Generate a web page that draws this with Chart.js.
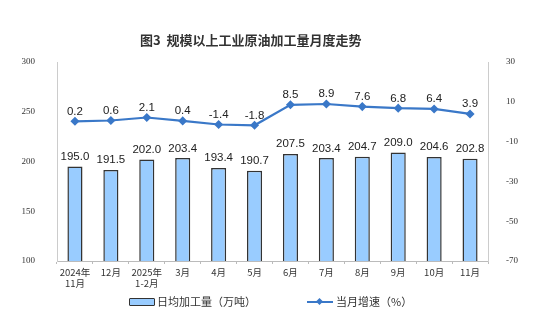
<!DOCTYPE html>
<html><head><meta charset="utf-8">
<script src="https://cdn.jsdelivr.net/npm/chart.js@4"></script>
<style>
html,body{margin:0;padding:0;background:#fff;}
#wrap{position:relative;width:550px;height:334px;}
#title{position:absolute;left:140px;top:30px;font:bold 13px "Noto Sans CJK SC",sans-serif;color:#333;white-space:nowrap;}
.lg{position:absolute;font:11px "Noto Sans CJK SC",sans-serif;color:#333;white-space:nowrap;}
#box{position:absolute;left:129px;top:298px;width:24px;height:6px;background:#99CCFF;border:1.5px solid #333;border-radius:1px;}
#ln{position:absolute;left:307px;top:301px;width:26px;height:2px;background:#3A78C8;}
#dm{position:absolute;left:317px;top:299px;width:5px;height:5px;background:#3A78C8;transform:rotate(45deg);}
</style></head>
<body><div id="wrap">
<canvas id="c" width="550" height="334"></canvas>
<div id="title">图3&nbsp;&nbsp;规模以上工业原油加工量月度走势</div>
<div id="box"></div><div class="lg" style="left:157px;top:293px;">日均加工量（万吨）</div>
<div id="ln"></div><div id="dm"></div><div class="lg" style="left:336px;top:293px;">当月增速（%）</div>
</div>
<script>
const categories = [['2024年','11月'],'12月',['2025年','1-2月'],'3月','4月','5月','6月','7月','8月','9月','10月','11月'];
const dailyOutput = [195.0,191.5,202.0,203.4,193.4,190.7,207.5,203.4,204.7,209.0,204.6,202.8];
const growthRate = [0.2,0.6,2.1,0.4,-1.4,-1.8,8.5,8.9,7.6,6.8,6.4,3.9];
const leftTicks = [100,150,200,250,300];
const rightTicks = [-70,-50,-30,-10,10,30];

const labelPlugin = {
  id:'labels',
  afterDatasetsDraw(chart){
    const ctx = chart.ctx;
    ctx.save();
    ctx.fillStyle = '#222';
    ctx.textAlign = 'center';
    ctx.textBaseline = 'bottom';
    ctx.font = '11.5px "Liberation Sans", Arial, sans-serif';
    chart.getDatasetMeta(0).data.forEach((el,i)=>{
      ctx.fillText(dailyOutput[i].toFixed(1), el.x, el.y - 4);
    });
    chart.getDatasetMeta(1).data.forEach((el,i)=>{
      ctx.fillText(growthRate[i].toFixed(1), el.x, el.y - 4);
    });
    ctx.restore();
  }
};

new Chart(document.getElementById('c'), {
  data:{
    labels:categories,
    datasets:[
      {type:'bar', data:dailyOutput, yAxisID:'y', backgroundColor:'#99CCFF', borderColor:'#333', borderWidth:1.5, barPercentage:0.42, categoryPercentage:1, order:2},
      {type:'line', data:growthRate, yAxisID:'y1', borderColor:'#3A78C8', backgroundColor:'#3A78C8', borderWidth:2.2, pointStyle:'rectRot', pointRadius:3, tension:0, order:1}
    ]
  },
  options:{
    responsive:false, animation:false,
    layout:{padding:{top:62,left:0,right:0,bottom:0}},
    plugins:{legend:{display:false}, tooltip:{enabled:false}},
    scales:{
      x:{
        grid:{display:true, offset:true, drawOnChartArea:false, tickLength:3, color:'#bbb'},
        border:{color:'#bbb'},
        ticks:{color:'#333', font:{size:9.5, family:'"Noto Sans CJK SC", sans-serif', lineHeight:1.25}, padding:2, maxRotation:0, autoSkip:false},
        afterFit(s){ s.height = 73; }
      },
      y:{
        position:'left', min:100, max:300,
        afterBuildTicks(s){ s.ticks = leftTicks.map(v=>({value:v})); },
        grid:{display:false},
        border:{color:'#ccc'},
        ticks:{color:'#333', font:{size:9, family:'"Liberation Serif", serif'}, padding:14},
        afterFit(s){ s.width = 57; }
      },
      y1:{
        position:'right', min:-70, max:30,
        afterBuildTicks(s){ s.ticks = rightTicks.map(v=>({value:v})); },
        grid:{display:false},
        border:{color:'#ccc'},
        ticks:{color:'#333', font:{size:9, family:'"Liberation Serif", serif'}, padding:10},
        afterFit(s){ s.width = 62; }
      }
    }
  },
  plugins:[labelPlugin]
});
</script>
</body></html>
